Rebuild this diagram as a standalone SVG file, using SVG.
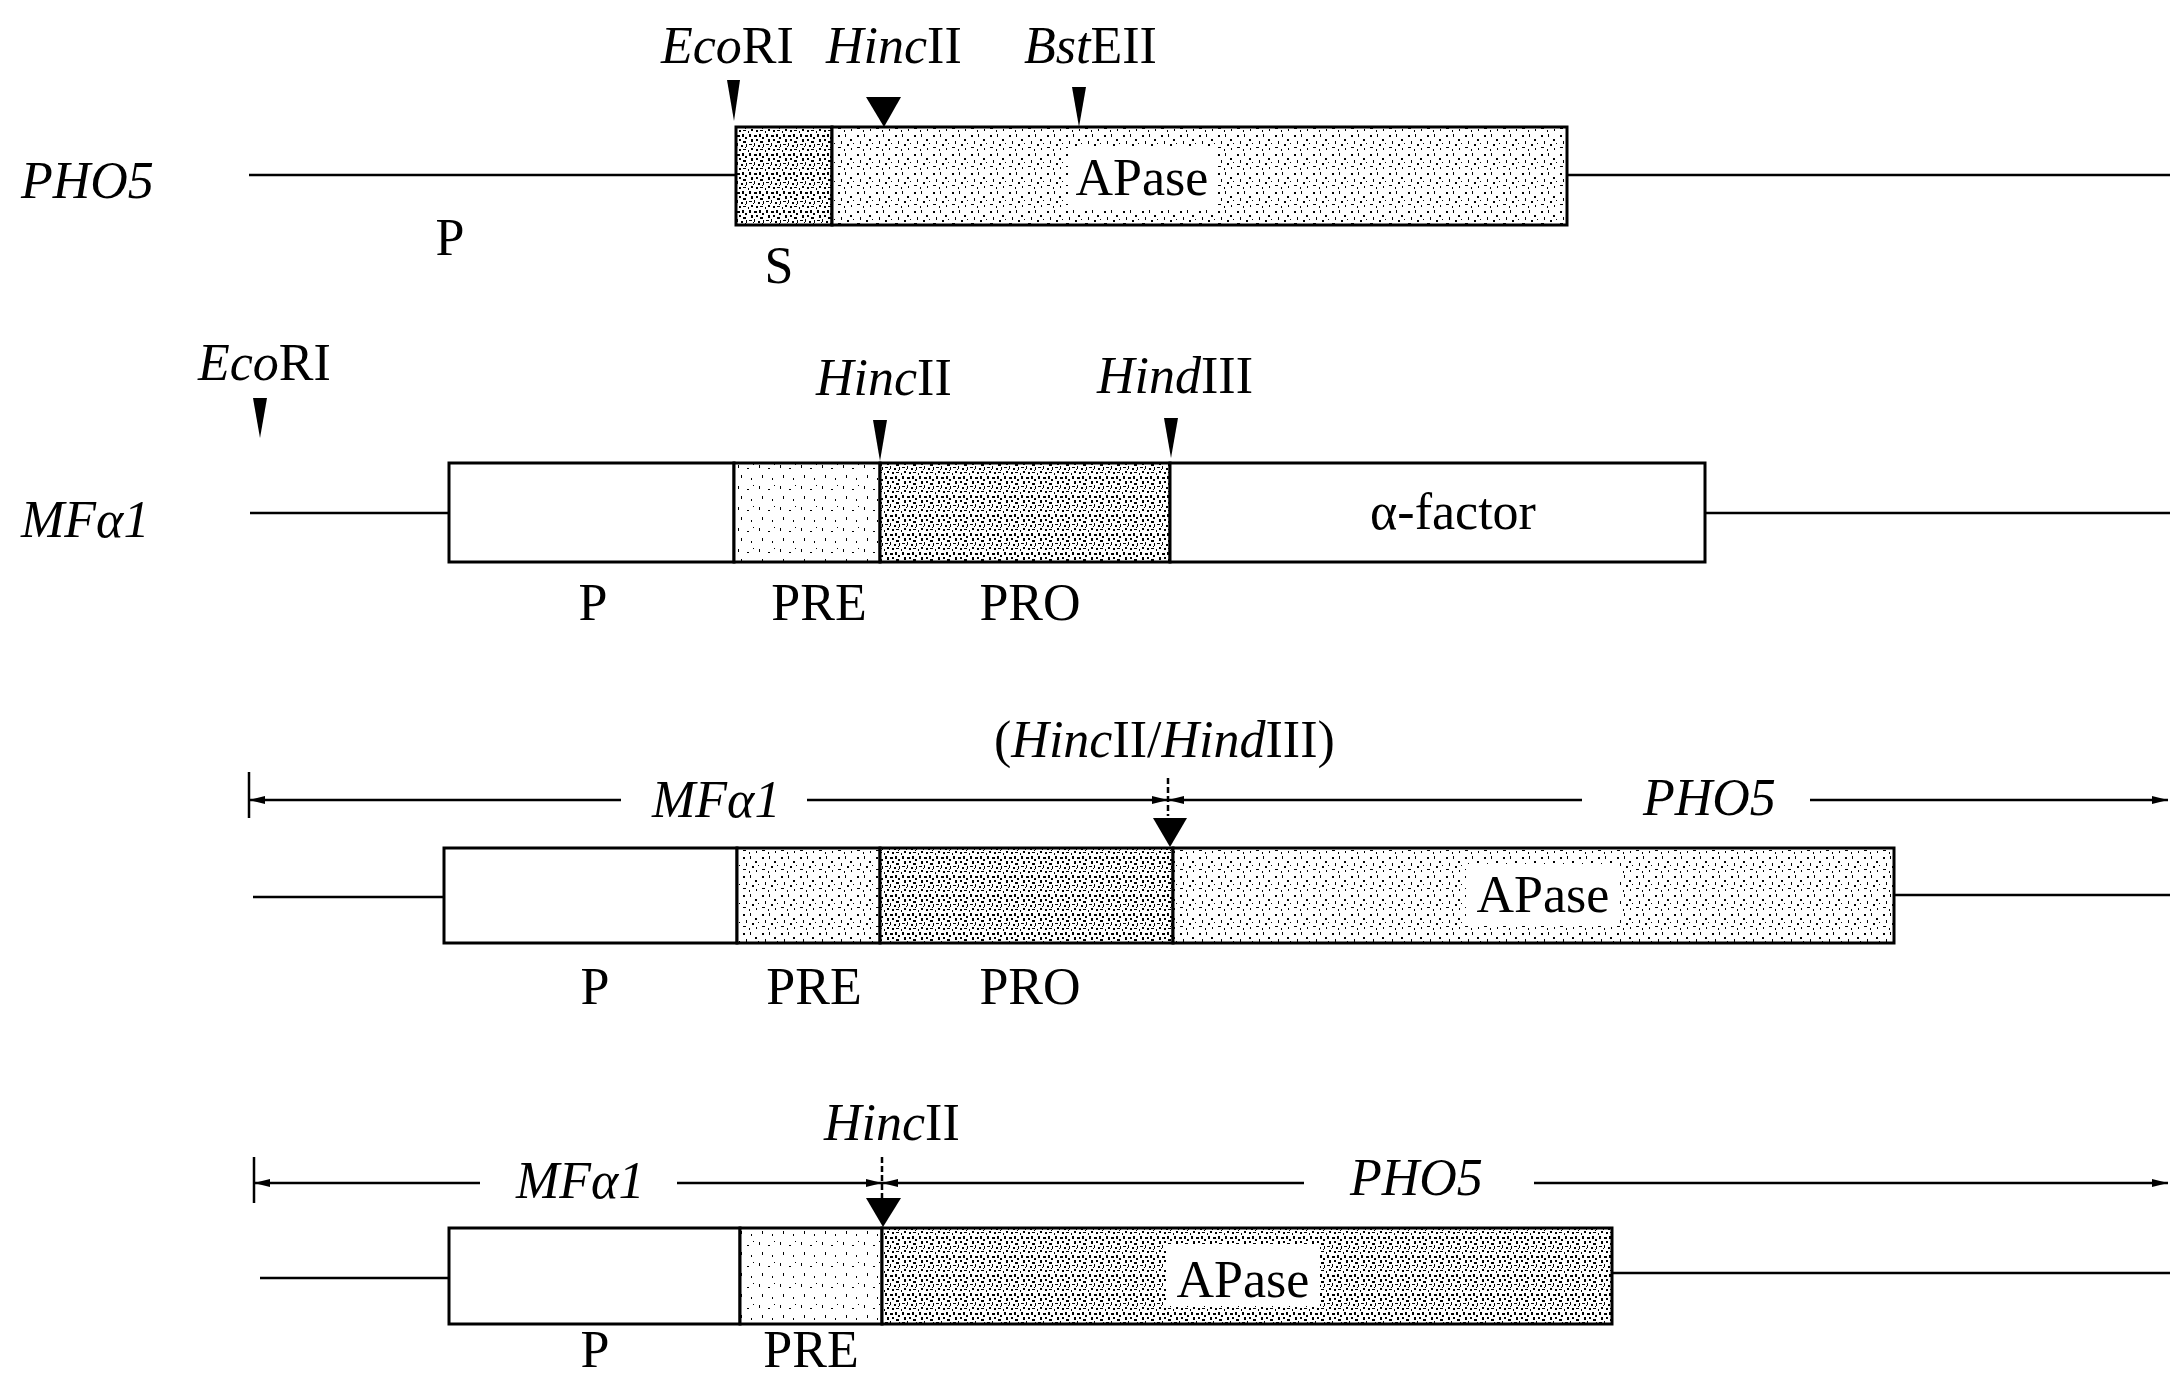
<svg xmlns="http://www.w3.org/2000/svg" width="2170" height="1380" viewBox="0 0 2170 1380">
<style>
.t{font-family:"Liberation Serif","Times New Roman",serif;font-size:52px;fill:#000}
.i{font-style:italic}
.ln{stroke:#000;stroke-width:2.5;fill:none}
.box{stroke:#000;stroke-width:3;}
.w{fill:#fff}
.site{fill:#000}
</style>
<defs>
<pattern id="dense" width="17" height="19" patternUnits="userSpaceOnUse">
<rect width="17" height="19" fill="#fff"/>
<path fill="#000" d="M1 1h2v3h-2z M6 2h3v2h-3z M11 1h2v3h-2z M14 4h2v2h-2z M3 6h2v3h-2z M8 6h2v2h-2z M12 8h3v2h-3z M1 11h3v1h-3z M6 10h1v3h-1z M10 12h2v2h-2z M15 11h1v3h-1z M3 15h2v2h-2z M8 16h2v2h-2z M12 16h3v1h-3z M5 13h1v1h-1z M14 14h1v1h-1z M0 17h1v2h-1z"/>
</pattern>
<pattern id="medium" width="19" height="19" patternUnits="userSpaceOnUse">
<rect width="19" height="19" fill="#fff"/>
<path fill="#000" d="M2 2h2v2h-2z M9 1h1v3h-1z M14 6h2v2h-2z M5 8h1v3h-1z M11 11h2v2h-2z M2 14h3v1h-3z M8 16h1v2h-1z M15 15h1v2h-1z M17 10h1v1h-1z"/>
</pattern>
<pattern id="light" width="21" height="21" patternUnits="userSpaceOnUse">
<rect width="21" height="21" fill="#fff"/>
<path fill="#000" d="M3 3h1v3h-1z M12 6h2v1h-2z M6 13h1v3h-1z M16 16h1v2h-1z M18 2h1v1h-1z"/>
</pattern>
<marker id="ar" markerUnits="userSpaceOnUse" markerWidth="16" markerHeight="10" refX="16" refY="5" orient="auto-start-reverse">
<path d="M0 1L16 5L0 9z" fill="#000"/>
</marker>
</defs>

<g id="connectors">
<line class="ln" x1="249" y1="175" x2="736" y2="175"/>
<line class="ln" x1="1567" y1="175" x2="2170" y2="175"/>
<line class="ln" x1="250" y1="513" x2="449" y2="513"/>
<line class="ln" x1="1705" y1="513" x2="2170" y2="513"/>
<line class="ln" x1="253" y1="897" x2="444" y2="897"/>
<line class="ln" x1="1894" y1="895" x2="2170" y2="895"/>
<line class="ln" x1="260" y1="1278" x2="449" y2="1278"/>
<line class="ln" x1="1612" y1="1273" x2="2170" y2="1273"/>
<line class="ln" x1="249" y1="772" x2="249" y2="818"/>
<line class="ln" x1="249" y1="800" x2="621" y2="800" marker-start="url(#ar)"/>
<line class="ln" x1="807" y1="800" x2="1168" y2="800" marker-end="url(#ar)"/>
<line class="ln" x1="1168" y1="800" x2="1582" y2="800" marker-start="url(#ar)"/>
<line class="ln" x1="1810" y1="800" x2="2168" y2="800" marker-end="url(#ar)"/>
<line class="ln" x1="1168" y1="778" x2="1168" y2="816" stroke-dasharray="6 3"/>
<line class="ln" x1="254" y1="1157" x2="254" y2="1203"/>
<line class="ln" x1="254" y1="1183" x2="480" y2="1183" marker-start="url(#ar)"/>
<line class="ln" x1="677" y1="1183" x2="882" y2="1183" marker-end="url(#ar)"/>
<line class="ln" x1="882" y1="1183" x2="1304" y2="1183" marker-start="url(#ar)"/>
<line class="ln" x1="1534" y1="1183" x2="2168" y2="1183" marker-end="url(#ar)"/>
<line class="ln" x1="882" y1="1157" x2="882" y2="1207" stroke-dasharray="6 3"/>
</g>

<g id="pho5">
<text class="t i" x="21" y="198">PHO5</text>
<g id="pho5-s"><rect class="box" x="736" y="127" width="96" height="98" fill="url(#dense)"/></g>
<g id="pho5-apase">
<rect class="box" x="832" y="127" width="735" height="98" fill="url(#medium)"/>
<rect class="w" x="1068" y="146" width="150" height="62"/>
<text class="t" x="1142" y="195" text-anchor="middle">APase</text>
</g>
<text class="t" x="450" y="255" text-anchor="middle">P</text>
<text class="t" x="779" y="283" text-anchor="middle">S</text>
<g id="pho5-sites">
<text class="t" x="661" y="63"><tspan class="i">Eco</tspan>RI</text>
<text class="t" x="826" y="63"><tspan class="i">Hinc</tspan>II</text>
<text class="t" x="1024" y="63"><tspan class="i">Bst</tspan>EII</text>
<polygon class="site" points="727,80 740,80 734,121"/>
<polygon class="site" points="866,97 901,97 884,127"/>
<polygon class="site" points="1072,87 1086,87 1079,127"/>
</g>
</g>

<g id="mfa1">
<text class="t i" x="21" y="537">MFα1</text>
<g id="mfa1-p"><rect class="box w" x="449" y="463" width="285" height="99"/></g>
<g id="mfa1-pre"><rect class="box" x="734" y="463" width="146" height="99" fill="url(#light)"/></g>
<g id="mfa1-pro"><rect class="box" x="880" y="463" width="290" height="99" fill="url(#dense)"/></g>
<g id="mfa1-factor"><rect class="box w" x="1170" y="463" width="535" height="99"/>
<text class="t" x="1453" y="529" text-anchor="middle">α-factor</text></g>
<text class="t" x="593" y="620" text-anchor="middle">P</text>
<text class="t" x="819" y="620" text-anchor="middle">PRE</text>
<text class="t" x="1030" y="620" text-anchor="middle">PRO</text>
<g id="mfa1-sites">
<text class="t" x="198" y="380"><tspan class="i">Eco</tspan>RI</text>
<text class="t" x="816" y="395"><tspan class="i">Hinc</tspan>II</text>
<text class="t" x="1097" y="393"><tspan class="i">Hind</tspan>III</text>
<polygon class="site" points="253,398 267,398 260,438"/>
<polygon class="site" points="873,420 887,420 880,461"/>
<polygon class="site" points="1164,418 1178,418 1171,458"/>
</g>
</g>

<g id="fusion1">
<text class="t" x="994" y="757">(<tspan class="i">Hinc</tspan>II/<tspan class="i">Hind</tspan>III)</text>
<text class="t i" x="652" y="817">MFα1</text>
<text class="t i" x="1643" y="815">PHO5</text>
<polygon class="site" points="1153,818 1187,818 1170,847"/>
<g id="fusion1-p"><rect class="box w" x="444" y="848" width="293" height="95"/></g>
<g id="fusion1-pre"><rect class="box" x="737" y="848" width="143" height="95" fill="url(#medium)"/></g>
<g id="fusion1-pro"><rect class="box" x="880" y="848" width="293" height="95" fill="url(#dense)"/></g>
<g id="fusion1-apase"><rect class="box" x="1173" y="848" width="721" height="95" fill="url(#medium)"/>
<rect class="w" x="1466" y="864" width="154" height="62"/>
<text class="t" x="1543" y="912" text-anchor="middle">APase</text></g>
<text class="t" x="595" y="1004" text-anchor="middle">P</text>
<text class="t" x="814" y="1004" text-anchor="middle">PRE</text>
<text class="t" x="1030" y="1004" text-anchor="middle">PRO</text>
</g>

<g id="fusion2">
<text class="t" x="824" y="1140"><tspan class="i">Hinc</tspan>II</text>
<text class="t i" x="516" y="1198">MFα1</text>
<text class="t i" x="1350" y="1195">PHO5</text>
<polygon class="site" points="866,1198 901,1198 883,1227"/>
<g id="fusion2-p"><rect class="box w" x="449" y="1228" width="291" height="96"/></g>
<g id="fusion2-pre"><rect class="box" x="740" y="1228" width="142" height="96" fill="url(#light)"/></g>
<g id="fusion2-apase"><rect class="box" x="882" y="1228" width="730" height="96" fill="url(#dense)"/>
<rect class="w" x="1166" y="1244" width="154" height="62"/>
<text class="t" x="1243" y="1297" text-anchor="middle">APase</text></g>
<text class="t" x="595" y="1367" text-anchor="middle">P</text>
<text class="t" x="811" y="1367" text-anchor="middle">PRE</text>
</g>
</svg>
